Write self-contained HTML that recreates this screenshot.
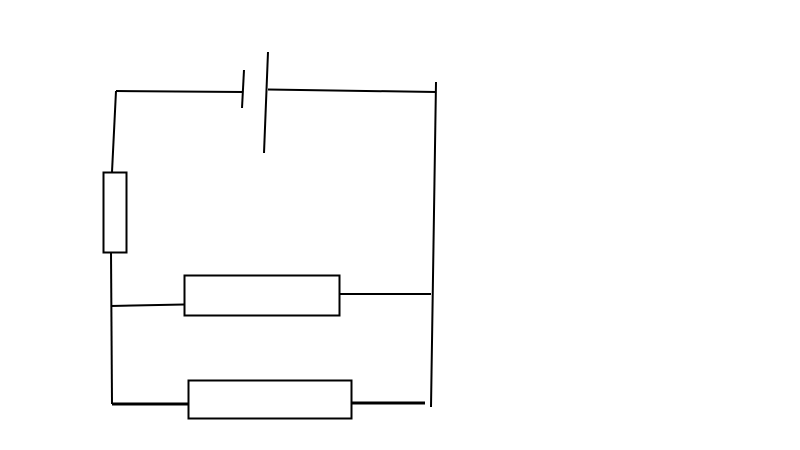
<!DOCTYPE html>
<html><head><meta charset="utf-8"><style>html,body{margin:0;padding:0;background:#fff;}svg{display:block}</style></head>
<body>
<svg width="800" height="450" viewBox="0 0 800 450" xmlns="http://www.w3.org/2000/svg">
<g stroke="#000" stroke-width="2" fill="none" stroke-linecap="butt">
<line x1="116" y1="91" x2="243" y2="92"/>
<line x1="244" y1="70" x2="242" y2="108"/>
<line x1="268" y1="52" x2="264" y2="153"/>
<line x1="268" y1="89.5" x2="436" y2="92"/>
<line x1="436" y1="82" x2="431" y2="407"/>
<line x1="116" y1="91" x2="112" y2="172"/>
<rect x="103.5" y="172.5" width="23" height="80"/>
<line x1="111" y1="252" x2="112" y2="404"/>
<rect x="184.5" y="275.5" width="155" height="40"/>
<line x1="111" y1="306" x2="184" y2="304.5"/>
<line x1="339" y1="294" x2="431" y2="294"/>
<rect x="188.5" y="380.5" width="163" height="38"/>
<line x1="112" y1="404" x2="188" y2="404" stroke-width="3"/>
<line x1="351" y1="403" x2="425" y2="403" stroke-width="3"/>
</g>
</svg>
</body></html>
